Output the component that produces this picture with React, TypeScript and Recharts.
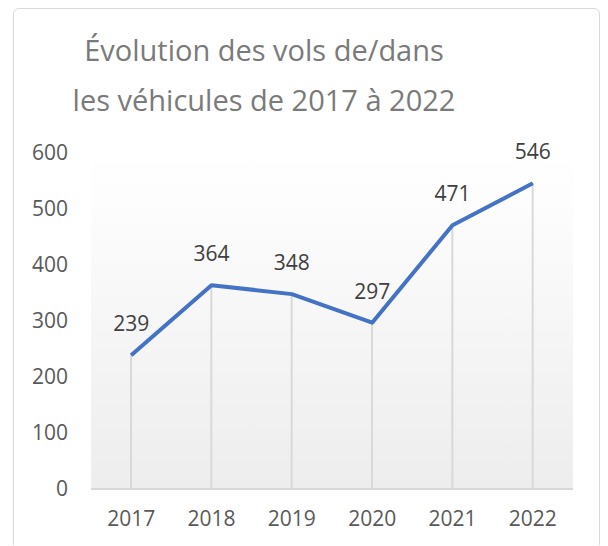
import {
  Bar,
  CartesianGrid,
  ComposedChart,
  LabelList,
  Line,
  XAxis,
  YAxis,
} from "recharts";

const years = ["2017", "2018", "2019", "2020", "2021", "2022"];
const thefts = [239, 364, 348, 297, 471, 546];
const yTicks = [0, 100, 200, 300, 400, 500, 600];
const titleLines = ["Évolution des vols de/dans", "les véhicules de 2017 à 2022"];

const font = "'Open Sans', 'Noto Sans', sans-serif";

const App = () => {
  const data = years.map((year, i) => ({ year, value: thefts[i] }));

  return (
    <div
      style={{
        position: "relative",
        width: 592,
        height: 537,
        overflow: "hidden",
        fontFamily: font,
      }}
    >
      {/* outer chart frame */}
      <div
        style={{
          position: "absolute",
          left: 5,
          top: 0,
          width: 587,
          height: 600,
          border: "1px solid #d9d9d9",
          borderRadius: 6,
          boxSizing: "border-box",
        }}
      />
      <div
        style={{
          position: "absolute",
          left: 0,
          top: 17,
          width: 512,
          textAlign: "center",
          fontSize: 29,
          lineHeight: "50px",
          color: "#7a7a7a",
        }}
      >
        {titleLines.map((line) => (
          <div key={line}>{line}</div>
        ))}
      </div>
      <ComposedChart
        width={592}
        height={537}
        data={data}
        margin={{ top: 145, right: 27, bottom: 0, left: 0 }}
        style={{ position: "absolute", left: 0, top: 0 }}
      >
        <defs>
          <linearGradient id="plotBg" x1="0" y1="0" x2="0" y2="1">
            <stop offset="0%" stopColor="#ffffff" />
            <stop offset="13%" stopColor="#fdfdfd" />
            <stop offset="100%" stopColor="#ededed" />
          </linearGradient>
        </defs>
        <CartesianGrid horizontal={false} vertical={false} fill="url(#plotBg)" />
        <XAxis
          dataKey="year"
          height={56}
          tickSize={0}
          tickMargin={22}
          axisLine={{ stroke: "#d9d9d9", strokeWidth: 2 }}
          tick={{ fill: "#595959", fontSize: 21, fontFamily: font }}
        />
        <YAxis
          width={83}
          domain={[0, 600]}
          ticks={yTicks}
          tickSize={0}
          tickMargin={23}
          axisLine={false}
          tickLine={false}
          tick={{ fill: "#595959", fontSize: 21, fontFamily: font }}
        />
        {/* drop lines from each point to the axis */}
        <Bar dataKey="value" barSize={2} fill="#d9d9d9" isAnimationActive={false} />
        <Line
          type="linear"
          dataKey="value"
          stroke="#4472c4"
          strokeWidth={4}
          strokeLinejoin="round"
          dot={false}
          activeDot={false}
          isAnimationActive={false}
        >
          <LabelList
            dataKey="value"
            position="top"
            offset={24}
            fill="#404040"
            fontSize={21}
            fontFamily={font}
          />
        </Line>
      </ComposedChart>
    </div>
  );
};

export default App;
